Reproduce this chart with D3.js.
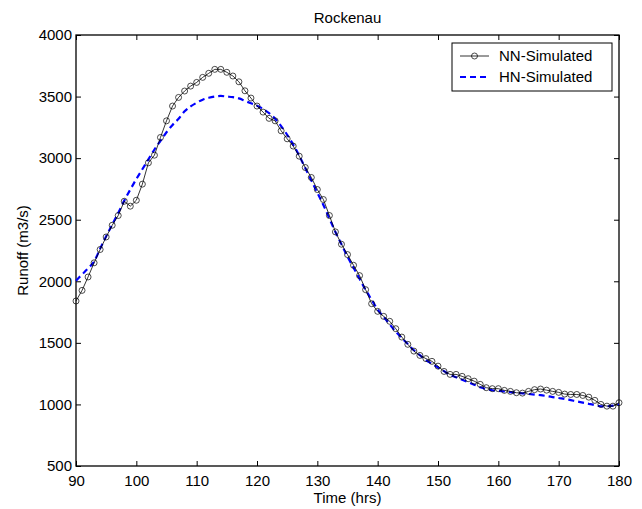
<!DOCTYPE html>
<html>
<head>
<meta charset="utf-8">
<script src="https://cdn.jsdelivr.net/npm/d3@7"></script>
<style>
  body { margin: 0; background: #fff; }
  svg { display: block; font-family: "Liberation Sans", Arial, Helvetica, sans-serif; }
</style>
</head>
<body>
<svg id="chart" width="642" height="509"></svg>
<script>
const hours = d3.range(90, 181);

const nnSimulated = [
  1840, 1926, 2035, 2150, 2258, 2360, 2455, 2534, 2650, 2610,
  2658, 2789, 2962, 3024, 3168, 3303, 3423, 3493, 3545, 3585,
  3615, 3656, 3689, 3721, 3721, 3697, 3667, 3620, 3547, 3488,
  3423, 3374, 3323, 3303, 3222, 3157, 3098, 3016, 2924, 2843,
  2745, 2664, 2534, 2401, 2301, 2217, 2130, 2046, 1932, 1818,
  1756, 1715, 1675, 1615, 1547, 1488, 1433, 1398, 1372, 1350,
  1311, 1268, 1244, 1244, 1228, 1209, 1189, 1163, 1136, 1128,
  1128, 1114, 1106, 1095, 1092, 1106, 1120, 1125, 1116, 1106,
  1098, 1084, 1081, 1081, 1073, 1059, 1033, 1000, 986, 986,
  1014
];

const hnSimulated = [
  2005, 2055, 2105, 2160, 2265, 2365, 2460, 2555, 2655, 2745,
  2830, 2910, 2990, 3070, 3140, 3210, 3270, 3320, 3380, 3420,
  3450, 3475, 3490, 3500, 3505, 3500, 3495, 3485, 3465, 3445,
  3425, 3400, 3365, 3320, 3260, 3190, 3110, 3020, 2920, 2820,
  2720, 2620, 2510, 2400, 2300, 2200, 2110, 2020, 1930, 1850,
  1770, 1710, 1650, 1590, 1540, 1490, 1440, 1400, 1360, 1330,
  1300, 1270, 1240, 1220, 1200, 1180, 1160, 1140, 1125, 1115,
  1110, 1105, 1100, 1095, 1090, 1085, 1080, 1075, 1068, 1060,
  1052, 1045, 1035, 1025, 1015, 1005, 995, 985, 985, 990,
  1000
];

const xTicks = [90, 100, 110, 120, 130, 140, 150, 160, 170, 180];
const yTicks = [500, 1000, 1500, 2000, 2500, 3000, 3500, 4000];

const margin = { left: 76, right: 23, top: 35, bottom: 43 };
const W = 642, H = 509;
const innerW = W - margin.left - margin.right;
const innerH = H - margin.top - margin.bottom;
const fontSize = "15px";

const svg = d3.select("#chart");
const g = svg.append("g").attr("transform", `translate(${margin.left},${margin.top})`);

const x = d3.scaleLinear().domain([90, 180]).range([0, innerW]);
const y = d3.scaleLinear().domain([500, 4000]).range([innerH, 0]);

// axes: ticks drawn inward, box on all four sides
const tickLen = 5;
function styleAxis(sel) {
  sel.select(".domain").remove();
  sel.selectAll(".tick line").attr("stroke", "#000").attr("stroke-width", 1);
  sel.selectAll(".tick text").attr("fill", "#000").style("font-size", fontSize);
}

g.append("g")
  .attr("transform", `translate(0,${innerH})`)
  .call(d3.axisBottom(x).tickValues(xTicks).tickFormat(d3.format("d"))
    .tickSizeInner(-tickLen).tickSizeOuter(0).tickPadding(9))
  .call(styleAxis);

g.append("g")
  .call(d3.axisTop(x).tickValues(xTicks).tickSizeInner(-tickLen).tickSizeOuter(0).tickFormat(""))
  .call(styleAxis);

g.append("g")
  .call(d3.axisLeft(y).tickValues(yTicks).tickFormat(d3.format("d"))
    .tickSizeInner(-tickLen).tickSizeOuter(0).tickPadding(4))
  .call(styleAxis);

g.append("g")
  .attr("transform", `translate(${innerW},0)`)
  .call(d3.axisRight(y).tickValues(yTicks).tickSizeInner(-tickLen).tickSizeOuter(0).tickFormat(""))
  .call(styleAxis);

g.append("rect")
  .attr("width", innerW).attr("height", innerH)
  .attr("fill", "none").attr("stroke", "#000").attr("stroke-width", 1.3);

// series
const nnData = hours.map((h, i) => ({ h, v: nnSimulated[i] }));
const hnData = hours.map((h, i) => ({ h, v: hnSimulated[i] }));

const line = d3.line().x((d) => x(d.h)).y((d) => y(d.v)).curve(d3.curveMonotoneX);

g.append("path")
  .datum(hnData)
  .attr("fill", "none")
  .attr("stroke", "#0000ff")
  .attr("stroke-width", 2.2)
  .attr("stroke-dasharray", "6,4")
  .attr("d", line);

g.append("path")
  .datum(nnData)
  .attr("fill", "none")
  .attr("stroke", "#000")
  .attr("stroke-width", 0.8)
  .attr("d", d3.line().x((d) => x(d.h)).y((d) => y(d.v)));

g.append("g")
  .selectAll("circle")
  .data(nnData)
  .join("circle")
  .attr("cx", (d) => x(d.h))
  .attr("cy", (d) => y(d.v))
  .attr("r", 3)
  .attr("fill", "none")
  .attr("stroke", "#000")
  .attr("stroke-width", 0.7);

// title and labels
svg.append("text")
  .attr("x", margin.left + innerW / 2).attr("y", 23)
  .attr("text-anchor", "middle")
  .style("font-size", fontSize)
  .text("Rockenau");

svg.append("text")
  .attr("x", margin.left + innerW / 2).attr("y", 503)
  .attr("text-anchor", "middle")
  .style("font-size", fontSize)
  .text("Time (hrs)");

svg.append("text")
  .attr("transform", `translate(28,${margin.top + innerH / 2}) rotate(-90)`)
  .attr("text-anchor", "middle")
  .style("font-size", fontSize)
  .text("Runoff (m3/s)");

// legend
const legend = svg.append("g").attr("transform", "translate(452,43)");
legend.append("rect")
  .attr("width", 160).attr("height", 48)
  .attr("fill", "#fff").attr("stroke", "#000").attr("stroke-width", 1);

const legendItems = [
  { label: "NN-Simulated", y: 13 },
  { label: "HN-Simulated", y: 34 }
];

legend.append("line")
  .attr("x1", 8).attr("x2", 37).attr("y1", legendItems[0].y).attr("y2", legendItems[0].y)
  .attr("stroke", "#000").attr("stroke-width", 0.8);
legend.append("circle")
  .attr("cx", 22.5).attr("cy", legendItems[0].y).attr("r", 3)
  .attr("fill", "none").attr("stroke", "#000").attr("stroke-width", 0.7);
legend.append("line")
  .attr("x1", 8).attr("x2", 37).attr("y1", legendItems[1].y).attr("y2", legendItems[1].y)
  .attr("stroke", "#0000ff").attr("stroke-width", 2.2).attr("stroke-dasharray", "6,4");

legend.selectAll("text.item")
  .data(legendItems)
  .join("text")
  .attr("class", "item")
  .attr("x", 47)
  .attr("y", (d) => d.y)
  .attr("dy", "0.35em")
  .style("font-size", fontSize)
  .text((d) => d.label);
</script>
</body>
</html>
